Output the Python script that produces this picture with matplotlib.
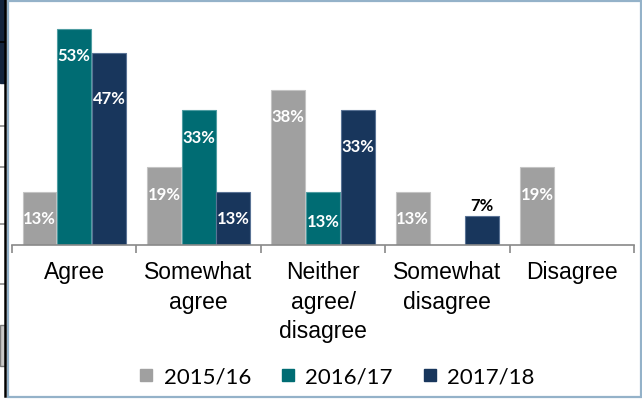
import numpy as np
import matplotlib
matplotlib.use("Agg")
import matplotlib.pyplot as plt
from matplotlib.patches import Rectangle
from matplotlib.lines import Line2D

categories = ["Agree", "Somewhat\nagree", "Neither\nagree/\ndisagree",
              "Somewhat\ndisagree", "Disagree"]
series_names = ["2015/16", "2016/17", "2017/18"]
values_2015 = [13, 19, 38, 13, 19]
values_2016 = [53, 33, 13, np.nan, np.nan]
values_2017 = [47, 13, 33, 7, np.nan]

colors = ["#A0A0A0", "#006C73", "#18365C"]
edges = ["#C4C4C4", "#4F9DA2", "#5A7395"]

W, H = 642, 402
fig = plt.figure(figsize=(W / 100, H / 100), dpi=100)

# plot area in pixel terms: axis line at y=246, spans x 12..634
ax = fig.add_axes([12 / W, (H - 246) / H, 622 / W, 245 / H])

x = np.arange(len(categories))
bar_w = 0.272
offsets = [-0.279, 0.0, 0.279]
all_vals = [values_2015, values_2016, values_2017]

# label offsets (points) below bar top; a few labels sit lower / above
default_off = -19
label_off = {(2, 0): -32, (2, 2): -26, (1, 2): -21, (2, 3): 8}

for s, vals in enumerate(all_vals):
    ax.bar(x + offsets[s], vals, bar_w, color=colors[s],
           edgecolor=edges[s], linewidth=0.8, zorder=2)
    for i, v in enumerate(vals):
        if np.isnan(v):
            continue
        off = label_off.get((s, i), default_off)
        col = "black" if off > 0 else "white"
        ax.annotate(f"{v:.0f}%", (x[i] + offsets[s], v),
                    xytext=(0, off), textcoords="offset points",
                    ha="center", va="center", color=col,
                    fontsize=12, fontweight="bold", fontfamily="Lato", zorder=3)

ax.set_xlim(-0.5, len(categories) - 0.5)
ax.set_ylim(0, 60)
for side in ["left", "right", "top"]:
    ax.spines[side].set_visible(False)
ax.spines["bottom"].set_color("#898989")
ax.spines["bottom"].set_linewidth(1.2)
ax.set_yticks([])
ax.set_xticks(x)
ax.set_xticklabels(categories)
for lbl in ax.get_xticklabels():
    lbl.set_fontfamily("Liberation Sans")
    lbl.set_fontsize(16.5)
    lbl.set_linespacing(1.36)
ax.tick_params(axis="x", which="major", length=0, pad=11)
ax.set_xticks(np.arange(-0.5, len(categories)), minor=True)
ax.tick_params(axis="x", which="minor", length=5.5, width=1.2,
               color="#898989", direction="out")
ax.patch.set_alpha(0)

handles = [Line2D([], [], marker="s", linestyle="none", markersize=8,
                  markerfacecolor=c, markeredgecolor=c) for c in colors]
fig.legend(handles, series_names, loc="center",
           bbox_to_anchor=(337 / W, 1 - 378 / H), ncol=3, frameon=False,
           prop={"family": "Lato", "size": 16}, handlelength=0.6,
           handletextpad=0.5, columnspacing=1.35)

# chart frame
fig.patches.append(Rectangle((8 / W, 4 / H), 633 / W, 396.5 / H,
                             transform=fig.transFigure, fill=False,
                             edgecolor="#94B2C9", linewidth=1.6, zorder=0))

# strip of the neighbouring window on the left edge
fig.patches.append(Rectangle((0, 1 - 84 / H), 4.5 / W, 84 / H,
                             transform=fig.transFigure, color="#13243D", zorder=1))
fig.lines.append(Line2D([0, 4.5 / W], [1 - 43 / H] * 2, transform=fig.transFigure,
                        color="black", linewidth=1.2, zorder=2))
fig.patches.append(Rectangle((0, 1 - 367 / H), 4.5 / W, 41 / H,
                             transform=fig.transFigure, facecolor="#C8C8C8",
                             edgecolor="#7A7A7A", linewidth=1.0, zorder=1))
for yy in [127, 168, 225, 285]:
    fig.lines.append(Line2D([0, 4.5 / W], [1 - yy / H] * 2, transform=fig.transFigure,
                            color="#8A8A8A", linewidth=1.2, zorder=2))
fig.lines.append(Line2D([5.2 / W, 5.2 / W], [1 - 397 / H, 1], transform=fig.transFigure,
                        color="black", linewidth=1.8, zorder=3))

fig.savefig("out.png", dpi=100)
